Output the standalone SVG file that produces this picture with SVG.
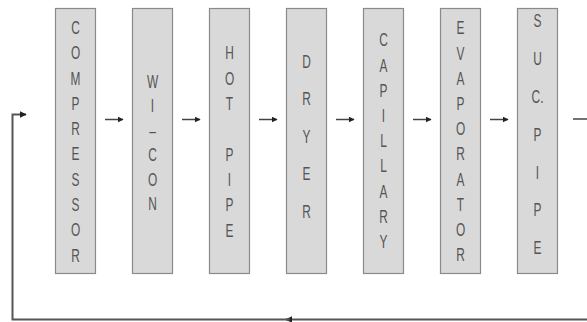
<svg xmlns="http://www.w3.org/2000/svg" width="587" height="322" viewBox="0 0 587 322">
<defs>
<marker id="ah" viewBox="0 0 10 10" refX="9" refY="5" markerWidth="6" markerHeight="6" markerUnits="userSpaceOnUse" orient="auto">
<path d="M0,0 L10,5 L0,10 z" fill="#222"/>
</marker>
<marker id="ahb" viewBox="0 0 10 10" refX="9" refY="5" markerWidth="7" markerHeight="7" markerUnits="userSpaceOnUse" orient="auto">
<path d="M0,0 L10,5 L0,10 z" fill="#222"/>
</marker>
</defs>
<style>
.box{fill:#d9d9d9;stroke:#8a8a8a;stroke-width:1.2}
.lbl{font-family:"Liberation Sans","DejaVu Sans",sans-serif;font-size:17.5px;fill:#555;text-anchor:middle}
.arr{stroke:#444;stroke-width:1.5;fill:none}
.fb{stroke:#555;stroke-width:2;fill:none}
</style>
<rect width="587" height="322" fill="#fff"/>
<g id="compressor">
<rect class="box" x="55.5" y="8.5" width="40" height="265"/>
<text class="lbl" transform="translate(75.5,0) scale(0.68,1)"><tspan x="0" y="34">C</tspan><tspan x="0" dy="25.3">O</tspan><tspan x="0" dy="25.3">M</tspan><tspan x="0" dy="25.3">P</tspan><tspan x="0" dy="25.3">R</tspan><tspan x="0" dy="25.3">E</tspan><tspan x="0" dy="25.3">S</tspan><tspan x="0" dy="25.3">S</tspan><tspan x="0" dy="25.3">O</tspan><tspan x="0" dy="25.3">R</tspan></text>
</g>
<g id="wicon">
<rect class="box" x="132.5" y="8.5" width="40" height="265"/>
<text class="lbl" transform="translate(152.5,0) scale(0.68,1)"><tspan x="0" y="88">W</tspan><tspan x="0" dy="24.4">I</tspan><tspan x="0" dy="24.4">–</tspan><tspan x="0" dy="24.4">C</tspan><tspan x="0" dy="24.4">O</tspan><tspan x="0" dy="24.4">N</tspan></text>
</g>
<g id="hotpipe">
<rect class="box" x="209.5" y="8.5" width="40" height="265"/>
<text class="lbl" transform="translate(229.5,0) scale(0.68,1)"><tspan x="0" y="59.5">H</tspan><tspan x="0" dy="25.3">O</tspan><tspan x="0" dy="25.3">T</tspan><tspan x="0" dy="50.6">P</tspan><tspan x="0" dy="25.3">I</tspan><tspan x="0" dy="25.3">P</tspan><tspan x="0" dy="25.3">E</tspan></text>
</g>
<g id="dryer">
<rect class="box" x="286.5" y="8.5" width="40" height="265"/>
<text class="lbl" transform="translate(306.5,0) scale(0.68,1)"><tspan x="0" y="68">D</tspan><tspan x="0" dy="37.5">R</tspan><tspan x="0" dy="37.5">Y</tspan><tspan x="0" dy="37.5">E</tspan><tspan x="0" dy="37.5">R</tspan></text>
</g>
<g id="capillary">
<rect class="box" x="363.5" y="8.5" width="40" height="265"/>
<text class="lbl" transform="translate(383.5,0) scale(0.68,1)"><tspan x="0" y="46.5">C</tspan><tspan x="0" dy="25.2">A</tspan><tspan x="0" dy="25.2">P</tspan><tspan x="0" dy="25.2">I</tspan><tspan x="0" dy="25.2">L</tspan><tspan x="0" dy="25.2">L</tspan><tspan x="0" dy="25.2">A</tspan><tspan x="0" dy="25.2">R</tspan><tspan x="0" dy="25.2">Y</tspan></text>
</g>
<g id="evaporator">
<rect class="box" x="440.5" y="8.5" width="40" height="265"/>
<text class="lbl" transform="translate(460.5,0) scale(0.68,1)"><tspan x="0" y="34.5">E</tspan><tspan x="0" dy="25.2">V</tspan><tspan x="0" dy="25.2">A</tspan><tspan x="0" dy="25.2">P</tspan><tspan x="0" dy="25.2">O</tspan><tspan x="0" dy="25.2">R</tspan><tspan x="0" dy="25.2">A</tspan><tspan x="0" dy="25.2">T</tspan><tspan x="0" dy="25.2">O</tspan><tspan x="0" dy="25.2">R</tspan></text>
</g>
<g id="sucpipe">
<rect class="box" x="517.5" y="8.5" width="40" height="265"/>
<text class="lbl" transform="translate(537.5,0) scale(0.68,1)"><tspan x="0" y="27.5">S</tspan><tspan x="0" dy="37.8">U</tspan><tspan x="0" dy="37.8">C.</tspan><tspan x="0" dy="37.8">P</tspan><tspan x="0" dy="37.8">I</tspan><tspan x="0" dy="37.8">P</tspan><tspan x="0" dy="37.8">E</tspan></text>
</g>
<g id="connectors">
<line class="arr" x1="105" y1="119.5" x2="123" y2="119.5" marker-end="url(#ah)"/>
<line class="arr" x1="182" y1="119.5" x2="200" y2="119.5" marker-end="url(#ah)"/>
<line class="arr" x1="259" y1="119.5" x2="277" y2="119.5" marker-end="url(#ah)"/>
<line class="arr" x1="336" y1="119.5" x2="354" y2="119.5" marker-end="url(#ah)"/>
<line class="arr" x1="413" y1="119.5" x2="431" y2="119.5" marker-end="url(#ah)"/>
<line class="arr" x1="490" y1="119.5" x2="508" y2="119.5" marker-end="url(#ah)"/>
<line class="arr" x1="573" y1="119" x2="587" y2="119"/>
<line class="fb" x1="587" y1="319.5" x2="286" y2="319.5" marker-end="url(#ahb)"/>
<polyline class="fb" points="290,319.5 12.5,319.5 12.5,114.5 26,114.5" marker-end="url(#ahb)"/>
</g>
</svg>
